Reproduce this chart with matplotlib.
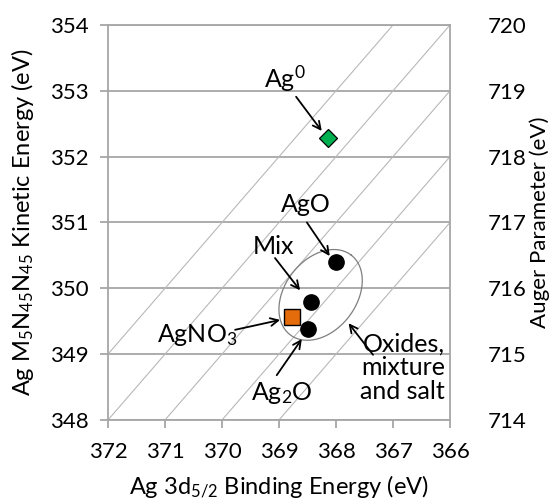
import numpy as np
import matplotlib
matplotlib.use("Agg")
import matplotlib.pyplot as plt

plt.rcParams['font.family'] = ['Lato', 'DejaVu Sans']
plt.rcParams['mathtext.default'] = 'regular'

# Wagner plot data: binding energy (Ag 3d5/2) vs kinetic energy (Ag MNN)
ag0_be = [368.14]
ag0_ke = [352.29]

oxide_be = [368.00, 368.43, 368.50]   # AgO, Mix, Ag2O
oxide_ke = [350.40, 349.79, 349.38]

agno3_be = [368.77]
agno3_ke = [349.57]

# constant Auger parameter lines
auger_lines = [717, 718, 719, 720, 721]

be_ticks = [372, 371, 370, 369, 368, 367, 366]
ke_ticks = [348, 349, 350, 351, 352, 353, 354]
ap_ticks = [714, 715, 716, 717, 718, 719, 720]

grid_col = '#a6a6a6'
fs_tick = 16
fs_lab = 17
fs_note = 18

fig = plt.figure(figsize=(5.57, 5.04), dpi=100)
ax = fig.add_axes([0.1939, 0.1667, 0.6140, 0.7837])

ax.set_xlim(372, 366)
ax.set_ylim(348, 354)

for k in ke_ticks:
    ax.axhline(k, color=grid_col, lw=1.3, zorder=1)

be_span = np.array([372.0, 366.0])
for ap in auger_lines:
    ax.plot(be_span, ap - be_span, color='#b8b8b8', lw=0.8, zorder=1)

# ellipse around oxides, mixture and salt (built in pixel proportions)
cx, cy = 368.27, 349.90
a_px, b_px, th = 50.2, 35.7, np.deg2rad(52.5)
t = np.linspace(0, 2 * np.pi, 200)
dx = a_px * np.cos(t) * np.cos(th) - b_px * np.sin(t) * np.sin(th)
dy = a_px * np.cos(t) * np.sin(th) + b_px * np.sin(t) * np.cos(th)
ax.plot(cx - dx / 57.0, cy + dy / 65.83, color='#7f7f7f', lw=0.9, zorder=2)

ax.plot(ag0_be, ag0_ke, 'D', ms=9, mfc='#00b050', mec='black', mew=0.9, zorder=4)
ax.plot(oxide_be, oxide_ke, 'o', ms=11, mfc='black', mec='black', zorder=4)
ax.plot(agno3_be, agno3_ke, 's', ms=11, mfc='#e46c0a', mec='black', mew=1.0, zorder=4)

arr = dict(arrowstyle='->', color='black', lw=1.3, shrinkA=0, shrinkB=0,
           mutation_scale=14)

def note(txt, xy_text, xy_tip, tail, ha='center'):
    ax.text(xy_text[0], xy_text[1], txt, fontsize=fs_note, ha=ha, va='center', zorder=5)
    ax.annotate('', xy=xy_tip, xytext=tail, arrowprops=arr, zorder=5)

note(r'Ag$^0$', (368.89, 353.19), (368.25, 352.39), (368.70, 352.91))
note('AgO', (368.53, 351.27), (368.11, 350.49), (368.51, 351.00))
note('Mix', (369.10, 350.63), (368.63, 349.97), (369.07, 350.46))
note(r'AgNO$_3$', (370.44, 349.29), (368.98, 349.52), (369.77, 349.37))
note(r'Ag$_2$O', (368.95, 348.41), (368.60, 349.23), (369.04, 348.68))
ax.text(366.09, 348.79, 'Oxides,\nmixture\nand salt', fontsize=fs_note, ha='right',
        va='center', linespacing=1.05, zorder=5)
ax.annotate('', xy=(367.78, 349.47), xytext=(367.35, 348.99), arrowprops=arr, zorder=5)

ax.set_xticks(be_ticks)
ax.set_yticks(ke_ticks)
ax.tick_params(axis='both', labelsize=fs_tick, length=6, width=1.3, color=grid_col,
               direction='out')
ax.tick_params(axis='x', pad=10)
ax.tick_params(axis='y', pad=8)
for s in ax.spines.values():
    s.set_color(grid_col)
    s.set_linewidth(1.3)

ax.set_xlabel(r'Ag 3d$_{5/2}$ Binding Energy (eV)', fontsize=fs_lab, labelpad=8)
ax.set_ylabel(r'Ag M$_5$N$_{45}$N$_{45}$ Kinetic Energy (eV)', fontsize=fs_lab, labelpad=10)

ax2 = ax.twinx()
ax2.set_ylim(714, 720)
ax2.set_yticks(ap_ticks)
ax2.tick_params(axis='y', labelsize=fs_tick, length=0, pad=27)
for s in ax2.spines.values():
    s.set_visible(False)
ax2.set_ylabel('Auger Parameter (eV)', fontsize=fs_tick, labelpad=2)

fig.savefig('out.png', dpi=100)
